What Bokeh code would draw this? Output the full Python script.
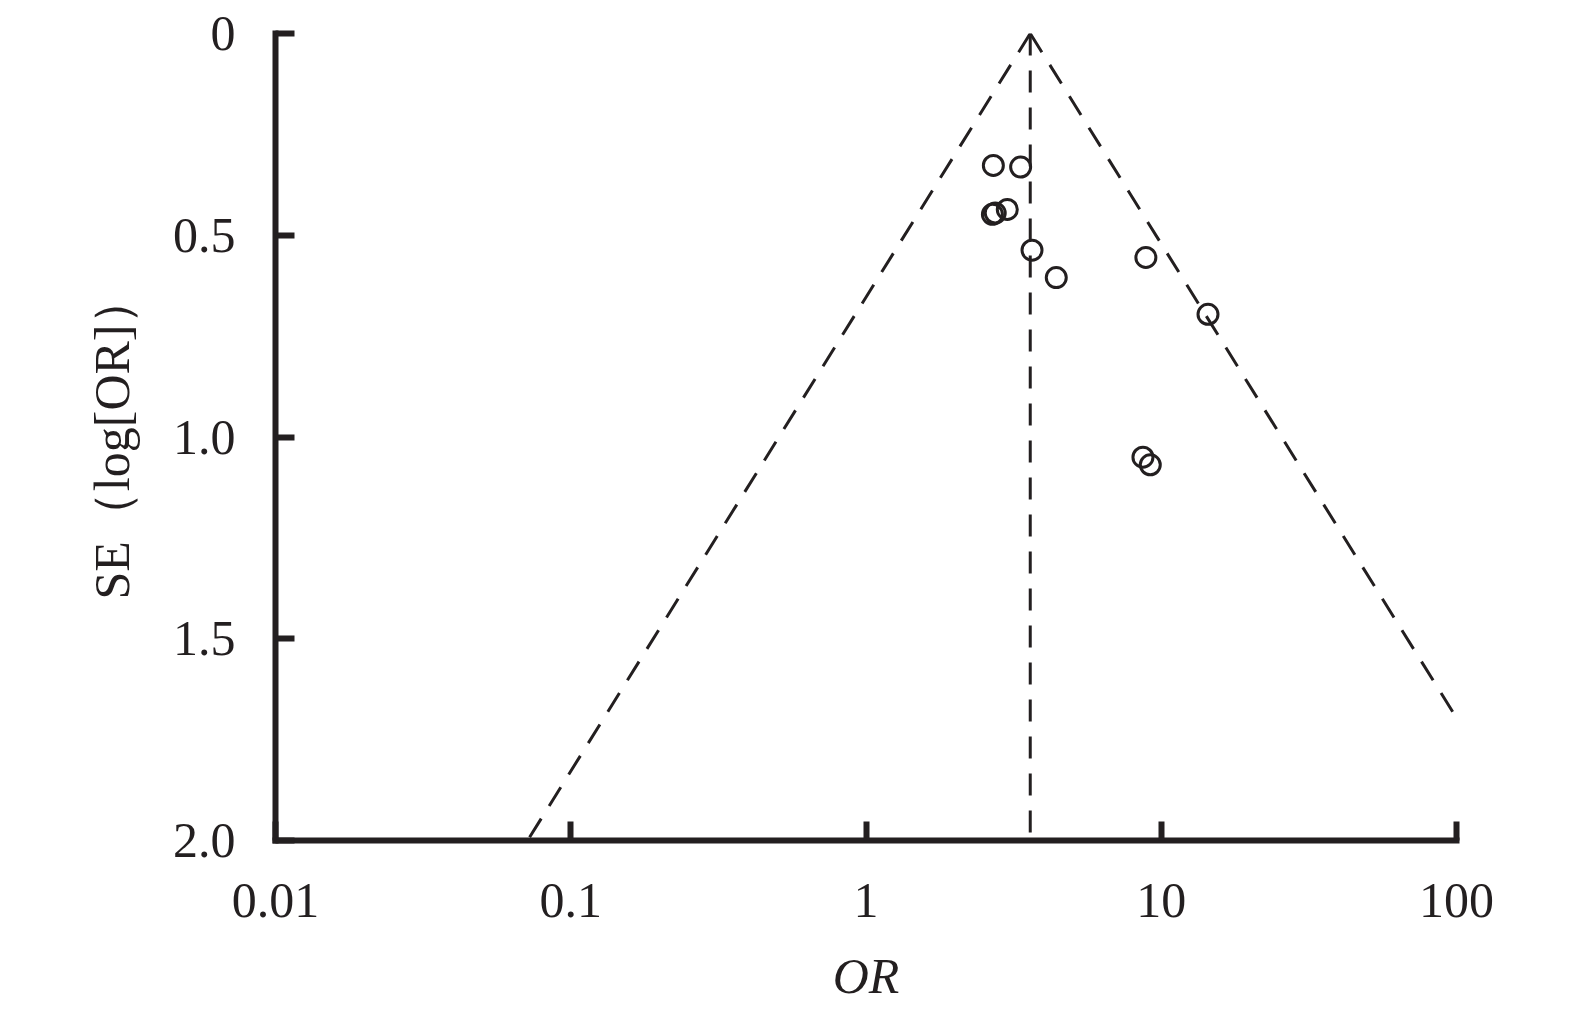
import numpy as np
from bokeh.plotting import figure
from bokeh.models import FixedTicker, ColumnDataSource
from bokeh.embed import file_html
from bokeh.resources import INLINE

# ---- data ----
odds_ratio = [2.70, 3.34, 2.68, 2.74, 3.01, 3.65, 4.41, 8.87, 14.4, 8.67, 9.18]
se_log_or = [0.327, 0.331, 0.448, 0.445, 0.436, 0.537, 0.605, 0.555, 0.696, 1.050, 1.069]
pooled_or = 3.60
z_crit = 1.96
se_span = [0.0, 2.0]
x_ticks = [0.01, 0.1, 1, 10, 100]
x_tick_labels = ["0.01", "0.1", "1", "10", "100"]
y_ticks = [0, 0.5, 1.0, 1.5, 2.0]
y_tick_labels = ["0", "0.5", "1.0", "1.5", "2.0"]

INK = "#231f20"
FONT = "Liberation Serif"

p = figure(width=1559, height=1006, x_axis_type="log",
           x_range=(0.01, 100), y_range=(2.0, 0.0),
           output_backend="svg", toolbar_location=None,
           min_border_left=275, min_border_right=103,
           min_border_top=33, min_border_bottom=150)
p.outline_line_color = None
p.grid.visible = False
p.background_fill_color = "white"
p.border_fill_color = "white"

# funnel lines
se_arr = np.array(se_span)
left_x = pooled_or * np.exp(-z_crit * se_arr)
right_x = pooled_or * np.exp(z_crit * se_arr)
dash = dict(line_color=INK, line_width=3, line_dash="22 15")
p.line(list(left_x), se_span, **dash)
p.line(list(right_x), se_span, **dash)
p.line([pooled_or, pooled_or], se_span, **dash)

src = ColumnDataSource(dict(x=odds_ratio, y=se_log_or))
p.scatter("x", "y", source=src, marker="circle", size=20,
          fill_color=None, line_color=INK, line_width=3)

for ax in (p.xaxis[0], p.yaxis[0]):
    ax.axis_line_width = 6
    ax.axis_line_color = INK
    ax.axis_line_cap = "square"
    ax.major_tick_line_width = 6
    ax.major_tick_line_color = INK
    ax.major_tick_in = 19
    ax.major_tick_out = 0
    ax.minor_tick_line_color = None
    ax.major_label_text_font = FONT
    ax.major_label_text_font_size = "50px"
    ax.major_label_text_color = INK
    ax.axis_label_text_font = FONT
    ax.axis_label_text_font_size = "50px"
    ax.axis_label_text_color = INK

p.xaxis.ticker = FixedTicker(ticks=x_ticks)
p.xaxis.major_label_overrides = {t: l for t, l in zip(x_ticks, x_tick_labels)}
p.xaxis.major_label_standoff = 43
p.xaxis.axis_label = "OR"
p.xaxis.axis_label_text_font_style = "italic"
p.xaxis.axis_label_standoff = 28

p.yaxis.ticker = FixedTicker(ticks=y_ticks)
p.yaxis.major_label_overrides = {t: l for t, l in zip(y_ticks, y_tick_labels)}
p.yaxis.major_label_standoff = 40
p.yaxis.axis_label = "SE（log[OR]）"
p.yaxis.axis_label_text_font_style = "normal"
p.yaxis.axis_label_standoff = 30

open("out.html", "w").write(file_html(p, INLINE))
